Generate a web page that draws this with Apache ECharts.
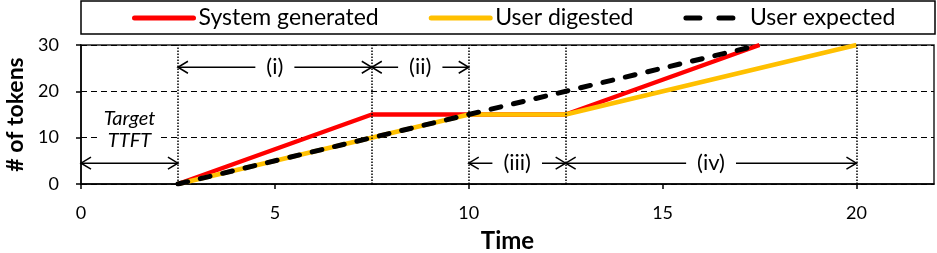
<!DOCTYPE html>
<html><head><meta charset="utf-8">
<script src="https://cdn.jsdelivr.net/npm/echarts@6/dist/echarts.min.js"></script>
<style>html,body{margin:0;padding:0;background:#fff}#c{width:937px;height:253px}</style>
</head><body><div id="c"></div>
<script>
const seriesNames = ['System generated', 'User digested', 'User expected'];
const sysTime = [2.5, 7.5, 12.5, 17.5];
const sysTokens = [0, 15, 15, 30];
const digTime = [2.5, 10, 12.5, 20];
const digTokens = [0, 15, 15, 30];
const expTime = [2.5, 17.5];
const expTokens = [0, 30];
const xTicks = [0, 5, 10, 15, 20];
const phaseBounds = [2.5, 7.5, 10, 12.5, 20];
const spanStart = [0, 2.5, 7.5, 10, 12.5];
const spanEnd = [2.5, 7.5, 10, 12.5, 20];
const spanLevel = [4.5, 25.2, 25.2, 4.5, 4.5];
const spanLabels = ['', '(i)', '(ii)', '(iii)', '(iv)'];
const noteX = [1.25];
const noteY = [11.7];
const noteText = ['Target\nTTFT'];

const FONT = 'Lato';
const zip = (xs, ys) => xs.map((x, i) => [x, ys[i]]);

function renderArrow(params, api) {
  const i = params.dataIndex;
  const a = api.coord([spanStart[i], spanLevel[i]]);
  const b = api.coord([spanEnd[i], spanLevel[i]]);
  const y = a[1], L = 10, H = 6;
  const st = { stroke: '#000', lineWidth: 1.5, fill: null };
  const children = [
    { type: 'line', shape: { x1: a[0], y1: y, x2: b[0], y2: y }, style: st },
    { type: 'polyline', shape: { points: [[a[0] + L, y - H], [a[0], y], [a[0] + L, y + H]] }, style: st },
    { type: 'polyline', shape: { points: [[b[0] - L, y - H], [b[0], y], [b[0] - L, y + H]] }, style: st }
  ];
  if (spanLabels[i]) {
    children.push({
      type: 'text', x: (a[0] + b[0]) / 2, y: y, z2: 10,
      style: { text: spanLabels[i], fill: '#000', fontSize: 22, fontFamily: FONT,
        align: 'center', verticalAlign: 'middle', backgroundColor: '#fff', padding: [0, 11] }
    });
  }
  return { type: 'group', children };
}

function renderNote(params, api) {
  const i = params.dataIndex;
  const p = api.coord([noteX[i], noteY[i]]);
  return {
    type: 'text', x: p[0], y: p[1],
    style: { text: noteText[i], fill: '#000', fontSize: 20, fontStyle: 'italic', fontFamily: FONT,
      lineHeight: 22, align: 'center', verticalAlign: 'middle', backgroundColor: '#fff', padding: [0, 4] }
  };
}

const legendLine = { width: 5, cap: 'round' };
const chart = echarts.init(document.getElementById('c'), null, { renderer: 'canvas' });
chart.setOption({
  animation: false,
  textStyle: { fontFamily: FONT },
  graphic: [{
    type: 'rect', shape: { x: 81, y: 1, width: 854, height: 33 },
    style: { fill: null, stroke: '#000', lineWidth: 1.5 }, z: 100
  }],
  legend: {
    left: 132, top: 5, padding: 0, itemWidth: 59, itemHeight: 14, itemGap: 50,
    itemStyle: { opacity: 0 },
    textStyle: { fontSize: 23, fontFamily: FONT, color: '#000', lineHeight: 26 },
    data: [
      { name: seriesNames[0], lineStyle: legendLine },
      { name: seriesNames[1], lineStyle: legendLine },
      { name: seriesNames[2], lineStyle: { type: [14, 19], width: 5, cap: 'round' } }
    ]
  },
  grid: { left: 81, right: 3, top: 45, bottom: 69, show: true, borderColor: '#222', borderWidth: 1.5,
    outerBoundsMode: 'none', containLabel: false },
  xAxis: {
    type: 'value', min: 0, max: 22, interval: 5,
    name: 'Time', nameLocation: 'middle', nameGap: 45,
    nameTextStyle: { fontSize: 24, fontWeight: 'bold', color: '#000', fontFamily: FONT },
    axisLine: { show: true, lineStyle: { color: '#000', width: 1.5 } },
    axisTick: { show: true, length: 5, lineStyle: { color: '#000', width: 1.5 }, customValues: xTicks },
    axisLabel: { fontSize: 18, color: '#000', margin: 20, customValues: xTicks, fontFamily: FONT },
    splitLine: { show: false }
  },
  yAxis: {
    type: 'value', min: 0, max: 30, interval: 10,
    name: '# of tokens', nameLocation: 'middle', nameGap: 47, nameRotate: 90,
    nameTextStyle: { fontSize: 23, fontWeight: 'bold', color: '#000', fontFamily: FONT },
    axisLine: { show: true, lineStyle: { color: '#000', width: 1.5 } },
    axisTick: { show: true, length: 5, lineStyle: { color: '#000', width: 1.5 } },
    axisLabel: { fontSize: 18, color: '#000', margin: 22, fontFamily: FONT },
    splitLine: { show: true, lineStyle: { color: '#000', width: 1, type: [6, 4] } }
  },
  series: [
    {
      name: seriesNames[0], type: 'line', data: zip(sysTime, sysTokens), symbol: 'none',
      lineStyle: { color: '#FF0000', width: 4.5 }, itemStyle: { color: '#FF0000' }, z: 3,
      markLine: {
        silent: true, symbol: ['none', 'none'], label: { show: false },
        lineStyle: { type: 'dotted', color: '#000', width: 1.5 },
        data: phaseBounds.map(v => ({ xAxis: v }))
      }
    },
    {
      name: seriesNames[1], type: 'line', data: zip(digTime, digTokens), symbol: 'none',
      lineStyle: { color: '#FFC000', width: 4.5 }, itemStyle: { color: '#FFC000' }, z: 4
    },
    {
      name: seriesNames[2], type: 'line', data: zip(expTime, expTokens), symbol: 'none',
      lineStyle: { color: '#000', width: 5, type: [10, 13], cap: 'round' }, itemStyle: { color: '#000' }, z: 5
    },
    {
      type: 'custom', renderItem: renderArrow, clip: false, silent: true, z: 6,
      data: spanStart.map((s, i) => [s, spanEnd[i], spanLevel[i]]),
      encode: { x: [0, 1], y: 2 }
    },
    {
      type: 'custom', renderItem: renderNote, clip: false, silent: true, z: 6,
      data: zip(noteX, noteY), encode: { x: 0, y: 1 }
    }
  ]
});
</script></body></html>
